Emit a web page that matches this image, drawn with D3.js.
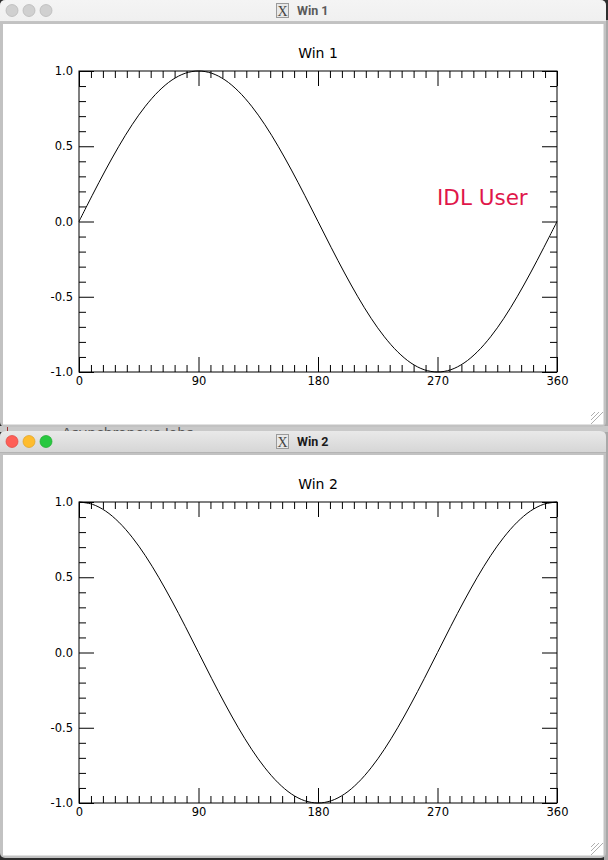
<!DOCTYPE html>
<html>
<head>
<meta charset="utf-8">
<script src="https://cdn.jsdelivr.net/npm/d3@7"></script>
<style>
  html, body { margin: 0; padding: 0; background: #2e2e2e; }
  svg { display: block; }
</style>
</head>
<body>
<svg id="chart" width="608" height="860"></svg>
<script>
// ---- data ----
const angles = [0,10,20,30,40,50,60,70,80,90,100,110,120,130,140,150,160,170,180,
                190,200,210,220,230,240,250,260,270,280,290,300,310,320,330,340,350,360];
const win1Values = [0,0.174,0.342,0.5,0.643,0.766,0.866,0.94,0.985,1.0,0.985,0.94,0.866,0.766,0.643,0.5,0.342,0.174,0,
                    -0.174,-0.342,-0.5,-0.643,-0.766,-0.866,-0.94,-0.985,-1.0,-0.985,-0.94,-0.866,-0.766,-0.643,-0.5,-0.342,-0.174,0];
const win2Values = [1.0,0.985,0.94,0.866,0.766,0.643,0.5,0.342,0.174,0,-0.174,-0.342,-0.5,-0.643,-0.766,-0.866,-0.94,-0.985,-1.0,
                    -0.985,-0.94,-0.866,-0.766,-0.643,-0.5,-0.342,-0.174,0,0.174,0.342,0.5,0.643,0.766,0.866,0.94,0.985,1.0];
const xMajorTicks = [0, 90, 180, 270, 360];
const xMinorTicks = [9,18,27,36,45,54,63,72,81,99,108,117,126,135,144,153,162,171,189,198,207,216,225,234,243,252,261,279,288,297,306,315,324,333,342,351];
const yMajorTicks = [-1.0, -0.5, 0.0, 0.5, 1.0];
const yMinorTicks = [-0.9,-0.8,-0.7,-0.6,-0.4,-0.3,-0.2,-0.1,0.1,0.2,0.3,0.4,0.6,0.7,0.8,0.9];
const windowTitles = ["Win 1", "Win 2"];
const annotationText = "IDL User";

const svg = d3.select("#chart");
const FONT = "'DejaVu Sans', Verdana, sans-serif";

// background pieces behind the windows
svg.append("rect").attr("x", 0).attr("y", 0).attr("width", 608).attr("height", 860).attr("fill", "#2e2e2e");
svg.append("rect").attr("x", 604).attr("y", 20).attr("width", 4).attr("height", 840).attr("fill", "#a9a9a9");
// strip between windows (partly hidden app text)
svg.append("rect").attr("x", 0).attr("y", 426).attr("width", 608).attr("height", 6).attr("fill", "#c9c9c9");
const clip = svg.append("clipPath").attr("id", "stripclip");
clip.append("rect").attr("x", 0).attr("y", 426).attr("width", 608).attr("height", 6);
svg.append("text").attr("x", 62).attr("y", 438).attr("clip-path", "url(#stripclip)")
  .attr("font-family", FONT).attr("font-size", 14).attr("fill", "#555").text("Asynchronous Jobs");
svg.append("rect").attr("x", 7).attr("y", 426).attr("width", 1).attr("height", 6).attr("fill", "#a03030");

function drawWindow(oy, title, values, active, label) {
  const g = svg.append("g").attr("transform", `translate(0,${oy})`);

  // frame
  g.append("rect").attr("x", 0).attr("y", 0).attr("width", 606).attr("height", 427)
    .attr("fill", "#c2c2c2").attr("rx", 5);
  // title bar
  const gradId = "tb" + oy;
  const grad = svg.append("defs").append("linearGradient").attr("id", gradId)
    .attr("x1", 0).attr("y1", 0).attr("x2", 0).attr("y2", 1);
  grad.append("stop").attr("offset", "0%").attr("stop-color", active ? "#e9e9e9" : "#f4f4f4");
  grad.append("stop").attr("offset", "100%").attr("stop-color", active ? "#d6d6d6" : "#f0f0f0");
  g.append("path")
    .attr("d", "M0,21 L0,6 Q0,0 6,0 L600,0 Q606,0 606,6 L606,21 Z")
    .attr("fill", `url(#${gradId})`);
  g.append("line").attr("x1", 0).attr("x2", 606).attr("y1", 21.5).attr("y2", 21.5)
    .attr("stroke", active ? "#b4b4b4" : "#c4c4c4");

  // traffic-light buttons
  const btnCols = active ? ["#fe5f57", "#febc2e", "#28c840"] : ["#d0d0d0", "#d0d0d0", "#d0d0d0"];
  const btnStroke = active ? ["#e0443e", "#dea123", "#1aab29"] : ["#b5b5b5", "#b5b5b5", "#b5b5b5"];
  [12, 29, 46].forEach((cx, i) => {
    g.append("circle").attr("cx", cx).attr("cy", 10.5).attr("r", 6)
      .attr("fill", btnCols[i]).attr("stroke", btnStroke[i]).attr("stroke-width", 0.7);
  });

  // X icon + title
  g.append("rect").attr("x", 276.5).attr("y", 3.5).attr("width", 12).attr("height", 14)
    .attr("fill", "#e8e8e8").attr("stroke", "#9a9a9a");
  g.append("text").attr("x", 282.5).attr("y", 15.5).attr("text-anchor", "middle")
    .attr("font-family", "'Liberation Serif', serif").attr("font-size", 14)
    .attr("fill", "#444").text("X");
  g.append("text").attr("x", 297).attr("y", 15).attr("font-family", "Roboto, 'Noto Sans', sans-serif")
    .attr("font-weight", "bold").attr("font-size", 12.5)
    .attr("fill", active ? "#1a1a1a" : "#5a5a5a").text(title);

  // white content area
  g.append("rect").attr("x", 3).attr("y", 24).attr("width", 600.5).attr("height", 400.5).attr("fill", "#fff");

  // resize grip
  [0, 4, 8].forEach(d => {
    g.append("line").attr("x1", 603 - d).attr("y1", 412).attr("x2", 591).attr("y2", 424 - d)
      .attr("stroke", "#9a9a9a").attr("stroke-width", 0.8);
  });

  // plot
  const x = d3.scaleLinear().domain([0, 360]).range([79, 557]);
  const y = d3.scaleLinear().domain([-1, 1]).range([372, 71]);
  const pl = g.append("g");

  function styleAxis(sel) {
    sel.selectAll("path.domain").attr("stroke", "#000").attr("stroke-width", 1);
    sel.selectAll(".tick line").attr("stroke", "#000").attr("stroke-width", 1);
    sel.selectAll(".tick text").attr("font-family", FONT).attr("font-size", 11.5).attr("fill", "#000");
    sel.attr("font-family", null).attr("font-size", null);
  }
  const fmtY = d => d.toFixed(1);
  pl.append("g").attr("transform", "translate(0,372)")
    .call(d3.axisBottom(x).tickValues(xMajorTicks).tickSize(-15).tickPadding(5).tickFormat(d => String(d)))
    .call(styleAxis);
  pl.append("g").attr("transform", "translate(0,372)")
    .call(d3.axisBottom(x).tickValues(xMinorTicks).tickSize(-7).tickFormat(""))
    .call(styleAxis);
  pl.append("g").attr("transform", "translate(0,71)")
    .call(d3.axisTop(x).tickValues(xMajorTicks).tickSize(-15).tickFormat(""))
    .call(styleAxis);
  pl.append("g").attr("transform", "translate(0,71)")
    .call(d3.axisTop(x).tickValues(xMinorTicks).tickSize(-7).tickFormat(""))
    .call(styleAxis);
  pl.append("g").attr("transform", "translate(79,0)")
    .call(d3.axisLeft(y).tickValues(yMajorTicks).tickSize(-15).tickPadding(6).tickFormat(fmtY))
    .call(styleAxis);
  pl.append("g").attr("transform", "translate(79,0)")
    .call(d3.axisLeft(y).tickValues(yMinorTicks).tickSize(-7).tickFormat(""))
    .call(styleAxis);
  pl.append("g").attr("transform", "translate(557,0)")
    .call(d3.axisRight(y).tickValues(yMajorTicks).tickSize(-15).tickFormat(""))
    .call(styleAxis);
  pl.append("g").attr("transform", "translate(557,0)")
    .call(d3.axisRight(y).tickValues(yMinorTicks).tickSize(-7).tickFormat(""))
    .call(styleAxis);
  pl.selectAll("path.domain").remove();
  // frame lines
  pl.append("rect").attr("x", x(0)).attr("y", y(1)).attr("width", x(360) - x(0)).attr("height", y(-1) - y(1))
    .attr("fill", "none").attr("stroke", "#000").attr("stroke-width", 1);

  // curve
  const line = d3.line().x((d, i) => x(angles[i])).y(d => y(d)).curve(d3.curveCatmullRom.alpha(0.5));
  pl.append("path").datum(values).attr("d", line)
    .attr("fill", "none").attr("stroke", "#000").attr("stroke-width", 1);

  // title
  pl.append("text").attr("x", (x(0) + x(360)) / 2).attr("y", 58).attr("text-anchor", "middle")
    .attr("font-family", FONT).attr("font-size", 14).attr("fill", "#000").text(title);

  if (label) {
    pl.append("text").attr("x", 437).attr("y", 205)
      .attr("font-family", FONT).attr("font-size", 21.5).attr("fill", "#e0164a").text(label);
  }
}

drawWindow(0, windowTitles[0], win1Values, false, annotationText);
drawWindow(431, windowTitles[1], win2Values, true, null);
</script>
</body>
</html>
